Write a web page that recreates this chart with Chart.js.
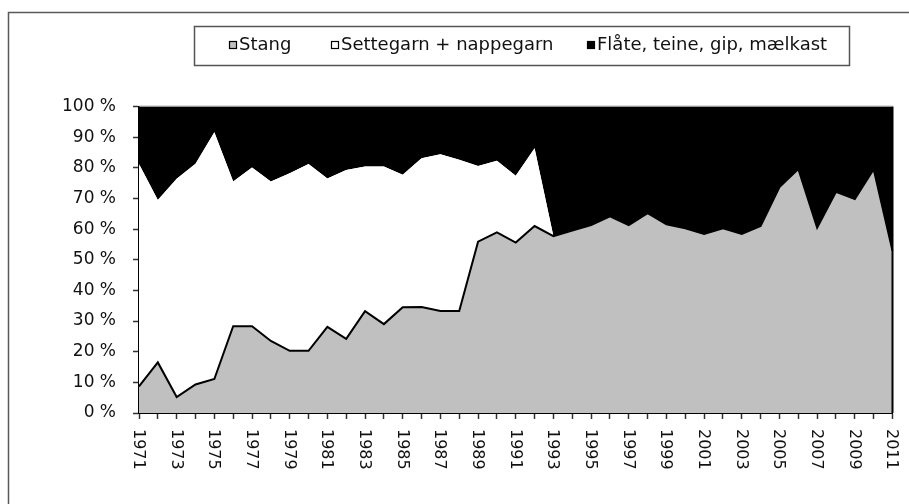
<!DOCTYPE html>
<html><head><meta charset="utf-8">
<script src="https://cdn.jsdelivr.net/npm/chart.js@4.4.1/dist/chart.umd.min.js"></script>
<style>html,body{margin:0;padding:0;background:#fff;}canvas{display:block;}</style>
</head><body>
<canvas id="c" width="909" height="504"></canvas>
<script>
const years = ['1971','1972','1973','1974','1975','1976','1977','1978','1979','1980',
  '1981','1982','1983','1984','1985','1986','1987','1988','1989','1990',
  '1991','1992','1993','1994','1995','1996','1997','1998','1999','2000',
  '2001','2002','2003','2004','2005','2006','2007','2008','2009','2010','2011'];
const shownYears = ['1971','1973','1975','1977','1979','1981','1983','1985','1987','1989',
  '1991','1993','1995','1997','1999','2001','2003','2005','2007','2009','2011'];
const seriesNames = ['Stang', 'Settegarn + nappegarn', 'Flåte, teine, gip, mælkast'];
const stang = [8.7,16.5,5.2,9.3,11.1,28.3,28.3,23.5,20.3,20.3,
  28.1,24.2,33.2,29.0,34.5,34.6,33.3,33.3,55.9,58.9,
  55.6,61.0,57.7,59.5,61.3,64.2,61.3,65.2,61.6,60.3,
  58.4,60.3,58.4,61.0,73.7,79.6,60.5,72.2,69.8,79.5,52.9];
const settegarn = [72.5,53.0,71.2,72.0,80.5,47.2,51.8,52.0,57.9,60.9,
  48.4,55.1,47.2,51.4,43.2,48.5,51.1,49.3,24.7,23.4,
  21.8,25.4,0,0,0,0,0,0,0,0,
  0,0,0,0,0,0,0,0,0,0,0];
const flate = [18.8,30.5,23.6,18.7,8.4,24.5,19.9,24.5,21.8,18.8,
  23.5,20.7,19.6,19.6,22.3,16.9,15.6,17.4,19.4,17.7,
  22.6,13.6,42.3,40.5,38.7,35.8,38.7,34.8,38.4,39.7,
  41.6,39.7,41.6,39.0,26.3,20.4,39.5,27.8,30.2,20.5,47.1];
const yTicks = [0,10,20,30,40,50,60,70,80,90,100];

const FONT = '"DejaVu Sans", "Liberation Sans", Arial, sans-serif';

const framePlugin = {
  id: 'frame',
  beforeDraw(chart) {
    const ctx = chart.ctx;
    ctx.save();
    ctx.fillStyle = '#fff';
    ctx.fillRect(0, 0, chart.width, chart.height);
    ctx.strokeStyle = '#5a5a5a';
    ctx.lineWidth = 1.5;
    ctx.beginPath();
    ctx.moveTo(8.5, chart.height + 2);
    ctx.lineTo(8.5, 12.5);
    ctx.lineTo(chart.width + 2, 12.5);
    ctx.stroke();
    ctx.restore();
  },
  afterDatasetsDraw(chart) {
    const ctx = chart.ctx, a = chart.chartArea;
    ctx.save();
    ctx.strokeStyle = '#000';
    ctx.lineWidth = 2;
    ctx.beginPath();
    ctx.moveTo(a.right, a.top);
    ctx.lineTo(a.right, a.bottom);
    ctx.stroke();
    ctx.strokeStyle = '#bbb';
    ctx.lineWidth = 1;
    ctx.beginPath();
    ctx.moveTo(a.left, a.top - 0.5);
    ctx.lineTo(a.right, a.top - 0.5);
    ctx.stroke();
    ctx.restore();
  }
};

const legendPlugin = {
  id: 'customLegend',
  afterDraw(chart) {
    const ctx = chart.ctx;
    ctx.save();
    ctx.strokeStyle = '#555';
    ctx.lineWidth = 1.5;
    ctx.strokeRect(194.5, 26.5, 655, 39);
    const boxX = [229, 331, 587];
    ctx.font = '18px ' + FONT;
    ctx.textBaseline = 'middle';
    ctx.textAlign = 'left';
    chart.data.datasets.forEach((ds, i) => {
      ctx.fillStyle = ds.backgroundColor;
      ctx.fillRect(boxX[i], 41, 8, 8);
      ctx.strokeStyle = '#000';
      ctx.lineWidth = 1.2;
      ctx.strokeRect(boxX[i] + 0.5, 41.5, 7, 7);
      ctx.fillStyle = '#111';
      ctx.fillText(ds.label, boxX[i] + 10, 45);
    });
    ctx.restore();
  }
};

const xLabelPlugin = {
  id: 'xLabels',
  afterDraw(chart) {
    const ctx = chart.ctx, xs = chart.scales.x, a = chart.chartArea;
    ctx.save();
    ctx.font = '16px ' + FONT;
    ctx.fillStyle = '#111';
    ctx.textAlign = 'left';
    ctx.textBaseline = 'middle';
    shownYears.forEach(y => {
      const x = xs.getPixelForValue(years.indexOf(y));
      ctx.save();
      ctx.translate(x - 1, a.bottom + 16);
      ctx.rotate(Math.PI / 2);
      ctx.fillText(y, 0, 0);
      ctx.restore();
    });
    ctx.restore();
  }
};

new Chart(document.getElementById('c'), {
  type: 'line',
  data: {
    labels: years,
    datasets: [
      { label: seriesNames[0], data: stang, backgroundColor: '#c0c0c0', borderColor: '#000',
        borderWidth: 2, fill: 'origin', pointRadius: 0, tension: 0 },
      { label: seriesNames[1], data: settegarn, backgroundColor: '#ffffff', borderColor: 'rgba(0,0,0,0)',
        borderWidth: 1, fill: '-1', pointRadius: 0, tension: 0 },
      { label: seriesNames[2], data: flate, backgroundColor: '#000000', borderColor: '#000',
        borderWidth: 1, fill: '-1', pointRadius: 0, tension: 0 }
    ]
  },
  options: {
    responsive: false,
    animation: false,
    devicePixelRatio: 1,
    layout: { padding: { left: 0, right: 16.5, top: 106.5, bottom: 71 } },
    plugins: { legend: { display: false }, tooltip: { enabled: false } },
    scales: {
      x: {
        type: 'category',
        offset: false,
        grid: { display: true, drawOnChartArea: false, drawTicks: true, tickLength: 6, tickColor: '#333', tickWidth: 1.5 },
        border: { display: true, color: '#000', width: 2 },
        ticks: { autoSkip: false, maxRotation: 0, minRotation: 0, callback: () => '' },
        afterFit: s => { s.height = 20; }
      },
      y: {
        stacked: true,
        min: 0, max: 100,
        afterBuildTicks: s => { s.ticks = yTicks.map(v => ({ value: v })); },
        ticks: { callback: v => v + ' %', font: { family: FONT, size: 17 }, color: '#111', padding: 17 },
        grid: { drawOnChartArea: false, drawTicks: true, tickLength: 6, tickColor: '#333', tickWidth: 1.5 },
        border: { display: true, color: '#000', width: 2 },
        afterFit: s => { s.width = 139; }
      }
    }
  },
  plugins: [framePlugin, legendPlugin, xLabelPlugin]
});
</script>
</body></html>
